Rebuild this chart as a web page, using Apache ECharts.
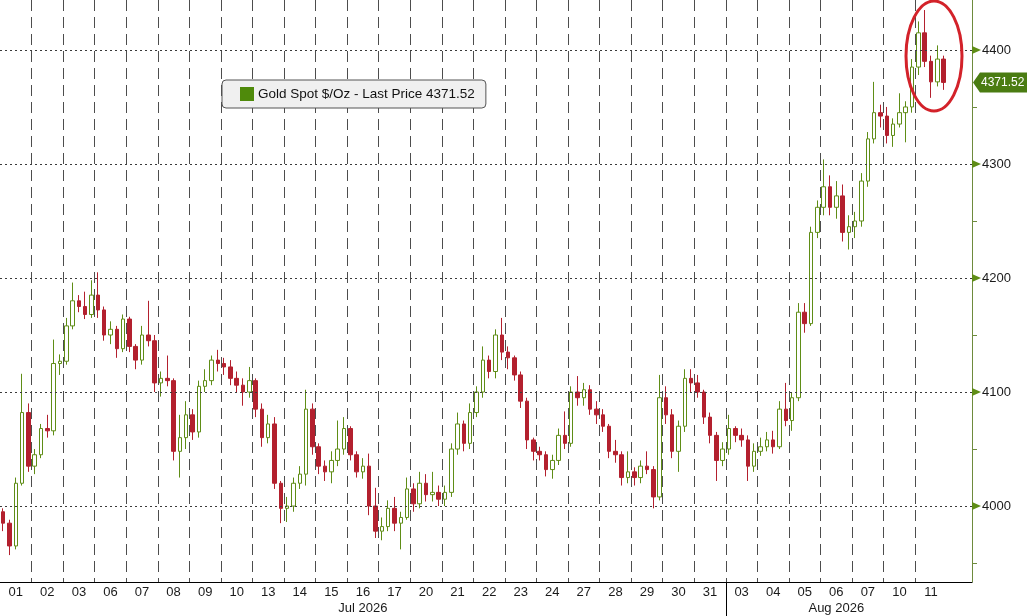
<!DOCTYPE html>
<html>
<head>
<meta charset="utf-8">
<title>Gold Spot $/Oz</title>
<script src="https://cdn.jsdelivr.net/npm/echarts@6/dist/echarts.min.js"></script>
<style>
  html, body { margin: 0; padding: 0; background: #fff; }
  #main { width: 1027px; height: 616px; }
</style>
</head>
<body>
<div id="main"></div>
<script>
// trading days on the axis
const dayLabels = ['01', '02', '03', '06', '07', '08', '09', '10', '13', '14', '15', '16', '17', '20', '21',
    '22', '23', '24', '27', '28', '29', '30', '31', '03', '04', '05', '06', '07', '10', '11'];
// month label shown under the middle day of each month
const monthLabels = { 11: 'Jul 2026', 26: 'Aug 2026' };
const monthStartDay = 23;

const yTicks = [4000, 4100, 4200, 4300, 4400];
const minorTicks = [3950, 4050, 4150, 4250, 4350];
const lastPrice = 4371.52;
const seriesName = 'Gold Spot $/Oz';

// [open, close, low, high], 5 bars per day
const candles = [
    // Jul 01
    [3995, 3985, 3978, 3998], [3985, 3965, 3957, 3988], [3965, 4020, 3962, 4025], [4020, 4082, 4018, 4116], [4082, 4035, 4030, 4090],
    // 02
    [4035, 4045, 4028, 4050], [4045, 4068, 4042, 4072], [4068, 4066, 4060, 4080], [4066, 4125, 4062, 4146], [4125, 4127, 4115, 4133],
    // 03
    [4127, 4158, 4124, 4165], [4158, 4180, 4155, 4196], [4180, 4175, 4170, 4185], [4175, 4168, 4164, 4188], [4168, 4185, 4165, 4198],
    // 06
    [4185, 4172, 4165, 4205], [4172, 4150, 4145, 4175], [4150, 4155, 4142, 4162], [4155, 4138, 4130, 4158], [4138, 4164, 4135, 4168],
    // 07
    [4164, 4140, 4135, 4166], [4140, 4128, 4120, 4142], [4128, 4150, 4124, 4158], [4150, 4145, 4140, 4180], [4145, 4108, 4100, 4150],
    // 08
    [4108, 4112, 4096, 4118], [4112, 4110, 4105, 4132], [4110, 4048, 4040, 4112], [4048, 4060, 4025, 4080], [4060, 4080, 4050, 4092],
    // 09
    [4080, 4065, 4058, 4085], [4065, 4105, 4060, 4110], [4105, 4110, 4100, 4120], [4110, 4128, 4106, 4132], [4128, 4125, 4118, 4137],
    // 10
    [4125, 4122, 4115, 4130], [4122, 4112, 4106, 4128], [4112, 4106, 4100, 4118], [4106, 4100, 4088, 4112], [4100, 4110, 4095, 4122],
    // 13
    [4110, 4085, 4078, 4112], [4085, 4060, 4052, 4090], [4060, 4072, 4055, 4080], [4072, 4020, 4015, 4078], [4020, 3998, 3985, 4022],
    // 14
    [3998, 4000, 3986, 4008], [4000, 4020, 3995, 4025], [4020, 4028, 4015, 4035], [4028, 4085, 4018, 4102], [4085, 4052, 4045, 4090],
    // 15
    [4052, 4035, 4028, 4055], [4035, 4030, 4022, 4040], [4030, 4040, 4020, 4048], [4040, 4050, 4035, 4075], [4050, 4068, 4045, 4078],
    // 16
    [4068, 4045, 4040, 4070], [4045, 4030, 4025, 4048], [4030, 4035, 4024, 4042], [4035, 4000, 3992, 4046], [4000, 3978, 3972, 4016],
    // 17
    [3978, 3982, 3970, 3990], [3982, 3998, 3978, 4005], [3998, 3985, 3978, 4008], [3985, 3990, 3962, 3995], [3990, 4015, 3988, 4025],
    // 20
    [4015, 4002, 3995, 4020], [4002, 4020, 3998, 4030], [4020, 4010, 4004, 4028], [4010, 4012, 4004, 4030], [4012, 4006, 4000, 4018],
    // 21
    [4006, 4012, 4000, 4018], [4012, 4050, 4008, 4055], [4050, 4072, 4045, 4082], [4072, 4055, 4048, 4075], [4055, 4082, 4050, 4090],
    // 22
    [4082, 4100, 4078, 4105], [4100, 4128, 4095, 4140], [4128, 4118, 4112, 4132], [4118, 4150, 4112, 4155], [4150, 4135, 4128, 4165],
    // 23
    [4135, 4130, 4120, 4140], [4130, 4115, 4110, 4132], [4115, 4092, 4086, 4118], [4092, 4058, 4050, 4095], [4058, 4048, 4040, 4060],
    // 24
    [4048, 4045, 4040, 4052], [4045, 4032, 4026, 4048], [4032, 4040, 4024, 4045], [4040, 4062, 4036, 4068], [4062, 4055, 4050, 4083],
    // 27
    [4055, 4100, 4052, 4105], [4100, 4095, 4088, 4114], [4095, 4102, 4088, 4108], [4102, 4085, 4080, 4106], [4085, 4080, 4072, 4092],
    // 28
    [4080, 4070, 4065, 4085], [4070, 4048, 4042, 4072], [4048, 4045, 4038, 4058], [4045, 4025, 4018, 4048], [4025, 4030, 4020, 4048],
    // 29
    [4030, 4025, 4018, 4034], [4025, 4035, 4020, 4040], [4035, 4032, 4028, 4048], [4032, 4008, 3998, 4035], [4008, 4095, 4005, 4115],
    // 30
    [4095, 4080, 4072, 4105], [4080, 4048, 4042, 4085], [4048, 4070, 4030, 4075], [4070, 4112, 4065, 4120], [4112, 4108, 4100, 4120],
    // 31
    [4108, 4100, 4095, 4115], [4100, 4078, 4072, 4102], [4078, 4062, 4055, 4082], [4062, 4040, 4022, 4065], [4040, 4050, 4035, 4056],
    // Aug 03
    [4050, 4068, 4045, 4080], [4068, 4062, 4056, 4070], [4062, 4058, 4052, 4068], [4058, 4035, 4022, 4062], [4035, 4048, 4030, 4055],
    // 04
    [4048, 4052, 4044, 4060], [4052, 4058, 4048, 4065], [4058, 4052, 4046, 4066], [4052, 4085, 4050, 4092], [4085, 4075, 4070, 4108],
    // 05
    [4075, 4095, 4066, 4100], [4095, 4170, 4092, 4178], [4170, 4160, 4152, 4178], [4160, 4240, 4158, 4245], [4240, 4262, 4235, 4268],
    // 06
    [4262, 4280, 4255, 4304], [4280, 4262, 4255, 4290], [4262, 4272, 4252, 4285], [4272, 4240, 4232, 4282], [4240, 4245, 4225, 4255],
    // 07
    [4245, 4250, 4235, 4258], [4250, 4285, 4245, 4292], [4285, 4322, 4280, 4328], [4322, 4345, 4318, 4372], [4345, 4342, 4332, 4352],
    // 10
    [4342, 4325, 4318, 4350], [4325, 4335, 4315, 4340], [4335, 4345, 4332, 4362], [4345, 4350, 4319, 4355], [4350, 4385, 4345, 4392],
    // 11
    [4385, 4415, 4378, 4425], [4415, 4390, 4385, 4435], [4390, 4372, 4358, 4395], [4372, 4392, 4368, 4404], [4392, 4371.52, 4365, 4395]
];

const perDay = 5;
const padBars = 4;
const FONT = "'Liberation Sans', Arial, sans-serif";
const GREEN = '#5f8d16';
const RED = '#b3202e';

// category names: "<day index>-<bar>" plus empty slots on the right
let categories = [];
dayLabels.forEach((d, i) => {
    for (let j = 0; j < perDay; j++) categories.push(i + '-' + j);
});
for (let j = 0; j < padBars; j++) categories.push('pad-' + j);

const nBars = dayLabels.length * perDay;

let chart = echarts.init(document.getElementById('main'));

let option = {
    animation: false,
    backgroundColor: '#ffffff',
    grid: { left: -10, right: 55, top: 0, bottom: 33 },
    legend: {
        left: 222,
        top: 80,
        padding: [7, 11, 7, 18],
        backgroundColor: '#f0f0f0',
        borderColor: '#555',
        borderWidth: 1,
        borderRadius: 4,
        itemWidth: 12,
        itemHeight: 12,
        itemGap: 5,
        icon: 'rect',
        selectedMode: false,
        data: [{ name: seriesName, itemStyle: { color: '#4f8a0b', borderColor: '#4f8a0b' } }],
        formatter: (name) => name + ' - Last Price ' + lastPrice.toFixed(2),
        textStyle: { fontFamily: FONT, fontSize: 13.5, color: '#111' }
    },
    xAxis: {
        type: 'category',
        data: categories,
        boundaryGap: true,
        axisLine: { lineStyle: { color: '#000', width: 1 } },
        axisTick: { show: false },
        axisLabel: {
            interval: (i) => i < nBars && i % perDay === 2,
            formatter: (value) => {
                let d = parseInt(value.split('-')[0], 10);
                if (isNaN(d)) return '';
                return monthLabels[d] ? dayLabels[d] + '\n' + monthLabels[d] : dayLabels[d];
            },
            margin: 2,
            lineHeight: 16,
            color: '#1a1a1a',
            fontSize: 13,
            fontFamily: FONT
        },
        splitLine: {
            show: true,
            interval: (i) => i > 0 && i < nBars && i % perDay === 0,
            lineStyle: { color: '#4d4d4d', width: 1, type: [11, 6] }
        }
    },
    yAxis: {
        type: 'value',
        position: 'right',
        min: 3933.4,
        max: 4443.8,
        splitNumber: 5,
        axisLine: { show: true, lineStyle: { color: '#6e8b3d', width: 1 } },
        axisTick: { show: false },
        splitLine: { show: false },
        axisLabel: {
            margin: 10,
            color: '#1a1a1a',
            fontSize: 13,
            fontFamily: FONT,
            formatter: (v) => yTicks.indexOf(Math.round(v)) >= 0 && Math.abs(v - Math.round(v)) < 1e-6 ? String(Math.round(v)) : ''
        }
    },
    series: [{
        name: seriesName,
        type: 'candlestick',
        data: candles,
        barWidth: 4,
        itemStyle: {
            color: '#ffffff',
            color0: RED,
            borderColor: GREEN,
            borderColor0: RED,
            borderWidth: 1
        },
        markLine: {
            silent: true,
            symbol: ['none', 'none'],
            label: { show: false },
            lineStyle: { color: '#3a3a3a', width: 1, type: [2, 3] },
            emphasis: { disabled: true },
            data: yTicks.map((v) => ({ yAxis: v }))
        }
    }]
};

chart.setOption(option);

// overlays: axis arrows, last price tag, month separator, annotation ellipse
function drawOverlays() {
    let axisX = chart.getWidth() - 55;
    let els = [];

    yTicks.forEach((v) => {
        let y = chart.convertToPixel({ yAxisIndex: 0 }, v);
        els.push({
            type: 'polygon', z: 10,
            shape: { points: [[axisX, y - 4], [axisX + 9, y], [axisX, y + 4]] },
            style: { fill: GREEN }
        });
    });
    minorTicks.forEach((v) => {
        let y = Math.round(chart.convertToPixel({ yAxisIndex: 0 }, v)) + 0.5;
        els.push({
            type: 'line', z: 10,
            shape: { x1: axisX, y1: y, x2: axisX + 5, y2: y },
            style: { stroke: '#6e8b3d', lineWidth: 1 }
        });
    });

    let ly = chart.convertToPixel({ yAxisIndex: 0 }, lastPrice);
    els.push({
        type: 'polygon', z: 11,
        shape: { points: [[axisX + 1, ly], [axisX + 8, ly - 10], [1027, ly - 10], [1027, ly + 10], [axisX + 8, ly + 10]] },
        style: { fill: '#4a7c12' }
    });
    els.push({
        type: 'text', z: 12,
        x: axisX + 9, y: ly,
        style: {
            text: lastPrice.toFixed(2), fill: '#ffffff', font: '12px ' + FONT,
            verticalAlign: 'middle', align: 'left'
        }
    });

    // solid month separator below the axis
    let sepX = Math.round((chart.convertToPixel({ xAxisIndex: 0 }, monthStartDay * perDay) +
        chart.convertToPixel({ xAxisIndex: 0 }, monthStartDay * perDay - 1)) / 2) + 0.5;
    let axisY = chart.getHeight() - 33;
    els.push({
        type: 'line', z: 10,
        shape: { x1: sepX, y1: axisY, x2: sepX, y2: chart.getHeight() },
        style: { stroke: '#000', lineWidth: 1 }
    });

    // expand icon inside the legend box
    els.push({
        type: 'group', z: 20,
        children: [
            { type: 'rect', shape: { x: 229.5, y: 90.5, width: 6, height: 6 }, style: { fill: '#fff', stroke: '#8a8a8a', lineWidth: 1 } },
            { type: 'line', shape: { x1: 231, y1: 93.5, x2: 234, y2: 93.5 }, style: { stroke: '#555', lineWidth: 1 } },
            { type: 'line', shape: { x1: 232.5, y1: 92, x2: 232.5, y2: 95 }, style: { stroke: '#555', lineWidth: 1 } }
        ]
    });

    // red circle round the latest move
    els.push({
        type: 'ellipse', z: 15,
        shape: { cx: 934, cy: 56, rx: 28, ry: 55 },
        style: { fill: 'none', stroke: '#d3222a', lineWidth: 3 }
    });

    chart.setOption({ graphic: els });
}

drawOverlays();
window.onresize = () => {
    chart.resize();
    drawOverlays();
};
</script>
</body>
</html>
